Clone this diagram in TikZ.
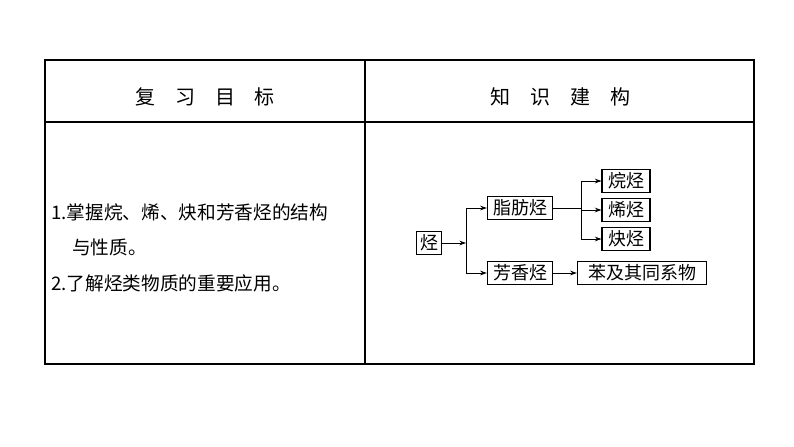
\documentclass[tikz,border=0pt]{standalone}
\usepackage{fontspec}
\newfontfamily\cjk{Noto Sans CJK SC}
\usetikzlibrary{arrows.meta}
\begin{document}
\begin{tikzpicture}[x=0.75pt,y=-0.75pt,
 bx/.style={draw,line width=0.8pt,inner sep=1pt,font=\cjk\fontsize{13.5}{13.5}\selectfont,minimum height=17pt},
 ar/.style={-{Stealth[length=5pt,width=3.5pt]},line width=0.6pt},
 ln/.style={line width=0.6pt},
 tx/.style={font=\cjk\fontsize{14}{16}\selectfont,anchor=west,inner sep=0pt}]
\useasboundingbox (0,0) rectangle (794,447);
\draw[line width=0.8pt] (45,60) rectangle (754,364);
\draw[line width=0.8pt] (45,122) -- (754,122) (365,60) -- (365,364);
\node[font=\cjk\fontsize{15}{15}\selectfont] (h1) at (205,97) {复\quad 习\quad 目\quad 标};
\node[font=\cjk\fontsize{15}{15}\selectfont] (h2) at (560,97) {知\quad 识\quad 建\quad 构};
\node[tx] (t1) at (51,212) {1.掌握烷、烯、炔和芳香烃的结构};
\node[tx] (t2) at (72,247) {与性质。};
\node[tx] (t3) at (51,283) {2.了解烃类物质的重要应用。};
\node[bx,minimum width=19pt] (r) at (429,243) {烃};
\node[bx,minimum width=49pt] (z) at (520,208) {脂肪烃};
\node[bx,minimum width=49pt] (f) at (520,273) {芳香烃};
\node[bx,minimum width=36pt] (a1) at (626,181) {烷烃};
\node[bx,minimum width=36pt] (a2) at (626,210) {烯烃};
\node[bx,minimum width=36pt] (a3) at (626,239) {炔烃};
\node[bx,minimum width=97pt] (b) at (642,273) {苯及其同系物};
\coordinate (j1) at (466,243);
\coordinate (j2) at (581,208);
\draw[ar] (r.east) -- (j1);
\draw[ln] (z.west -| j1) -- (f.west -| j1);
\draw[ar] (z.west -| j1) -- (z.west);
\draw[ar] (f.west -| j1) -- (f.west);
\draw[ln] (z.east) -- (j2);
\draw[ln] (a1.west -| j2) -- (a3.west -| j2);
\draw[ar] (a1.west -| j2) -- (a1.west);
\draw[ar] (a2.west -| j2) -- (a2.west);
\draw[ar] (a3.west -| j2) -- (a3.west);
\draw[ar] (f.east) -- (b.west);
\end{tikzpicture}
\end{document}
